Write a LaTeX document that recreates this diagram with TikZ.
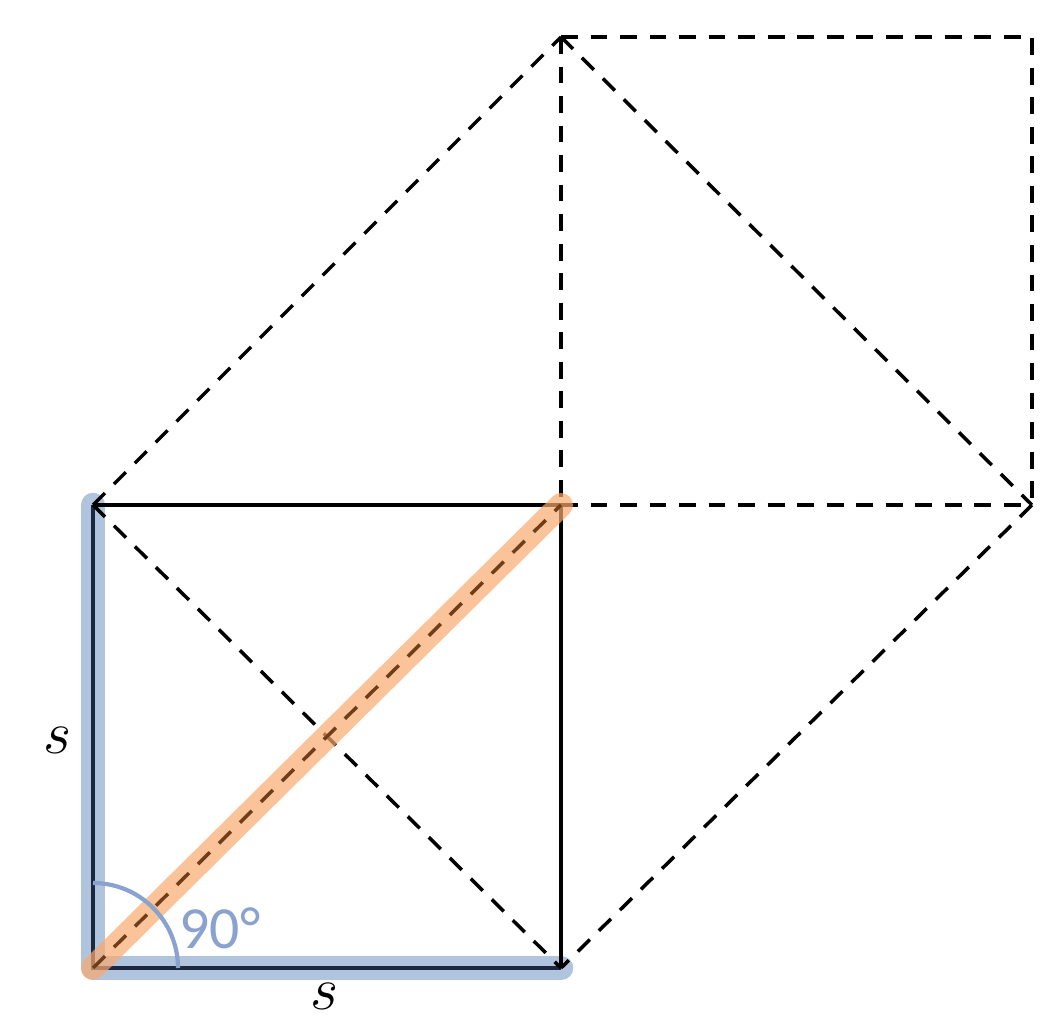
\documentclass[tikz,border=0pt]{standalone}
\usepackage{fontspec}
\newfontfamily\labelfont{Carlito}
\definecolor{hlblue}{RGB}{176,196,222}
\definecolor{arcblue}{RGB}{138,163,206}
\definecolor{hlorange}{RGB}{250,170,110}
\definecolor{navy}{RGB}{28,40,64}
\definecolor{brown}{RGB}{110,62,25}
\tikzset{
  dsh/.style={dashed, dash pattern=on 4.8pt off 3.6pt, line width=1pt},
  sld/.style={line width=1pt},
}
\begin{document}
\begin{tikzpicture}
\useasboundingbox (0,0) rectangle (10.55,10.24);
\coordinate (A) at (0.93,0.56);
\coordinate (B) at (5.61,0.56);
\coordinate (C) at (5.61,5.19);
\coordinate (D) at (0.93,5.19);
\coordinate (E) at (5.61,9.87);
\coordinate (F) at (10.32,9.87);
\coordinate (G) at (10.32,5.19);
% highlights
\draw[hlblue, line width=7pt, line cap=round, line join=round] (D) -- (A) -- (B);
% square
\draw[sld] (D) -- (C) -- (B);
\draw[sld, navy] (D) -- (A) -- (B);
% dashed
\draw[dsh] (D) -- (E);
\draw[dsh] (E) -- (F) -- (G);
\draw[dsh] (G) -- (B);
\draw[dsh] (E) -- (C);
\draw[dsh] (C) -- (G);
\draw[dsh] (E) -- (G);
\draw[dsh] (D) -- (B);
\draw[hlorange, opacity=0.7, line width=6.8pt, line cap=round] (A) -- (C);
\draw[dsh, brown] (A) -- (C);
% angle
\draw[arcblue, line width=1.2pt] ([xshift=0.85cm]A) arc (0:90:0.85cm);
\node[arcblue, font=\labelfont\fontsize{17}{17}\selectfont] (ang) at (2.20,0.96) {90°};
\node[font=\fontsize{19}{19}\selectfont] (s1) at (0.58,2.84) {$s$};
\node[font=\fontsize{19}{19}\selectfont] (s2) at (3.25,0.28) {$s$};
\end{tikzpicture}
\end{document}
